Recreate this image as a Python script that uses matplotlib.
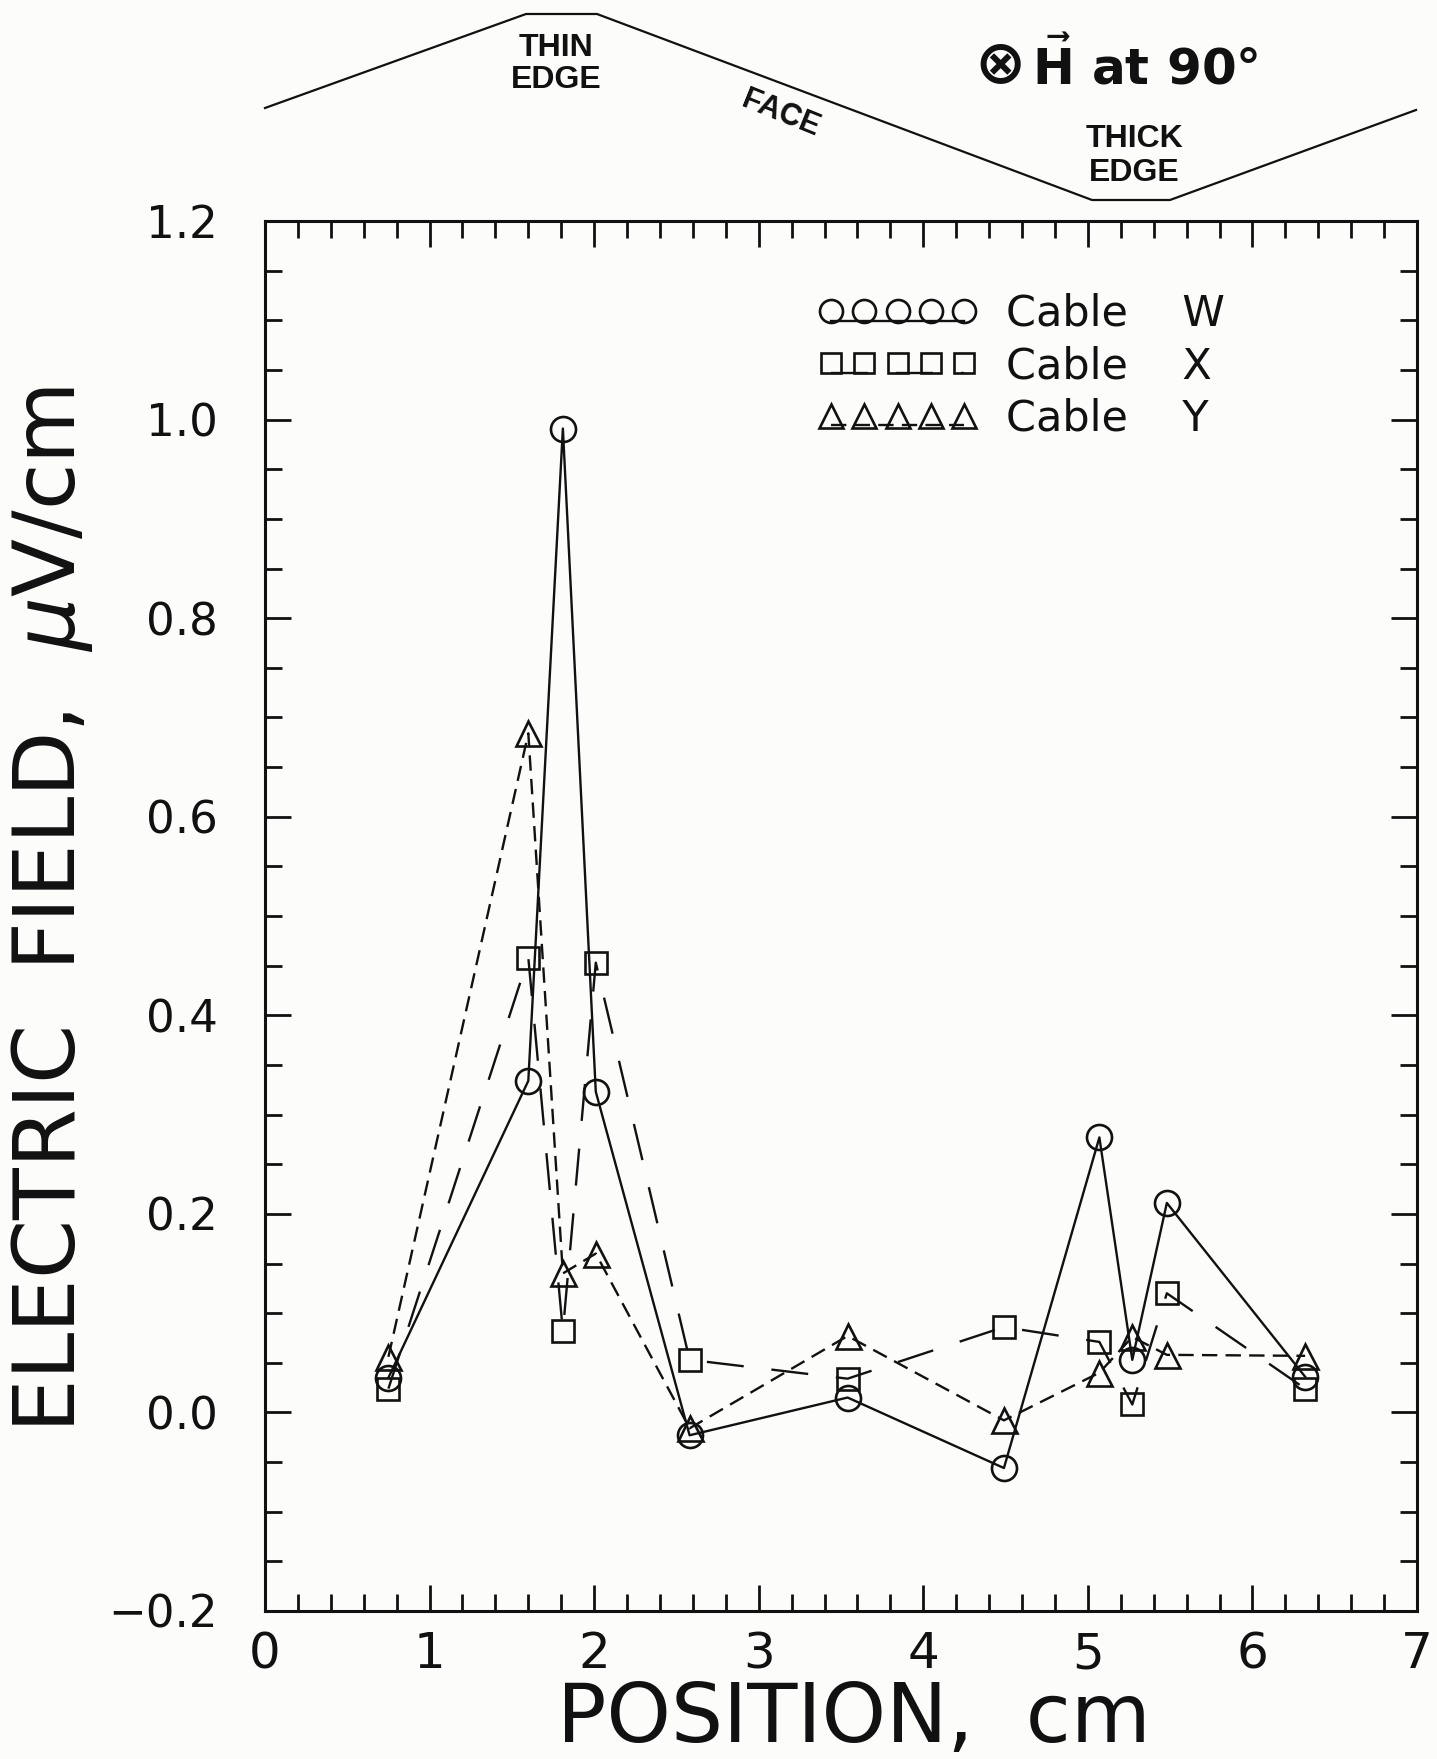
import matplotlib
matplotlib.use("Agg")
import matplotlib.pyplot as plt
import numpy as np
from matplotlib.ticker import MultipleLocator, FixedLocator, FixedFormatter
from matplotlib.legend_handler import HandlerLine2D
from matplotlib.lines import Line2D

# ---------------- data ----------------
position = [0.75, 1.60, 1.81, 2.01, 2.58, 3.54, 4.49, 5.07, 5.27, 5.48, 6.32]
cable_w = [0.035, 0.334, 0.991, 0.323, -0.023, 0.015, -0.056, 0.277, 0.053, 0.211, 0.036]
cable_x = [0.024, 0.458, 0.082, 0.453, 0.053, 0.034, 0.086, 0.071, 0.008, 0.120, 0.024]
cable_y = [0.056, 0.684, 0.140, 0.160, -0.016, 0.077, -0.008, 0.040, 0.076, 0.058, 0.057]

series_labels = ["Cable    W", "Cable    X", "Cable    Y"]
x_ticks = [0, 1, 2, 3, 4, 5, 6, 7]
x_tick_labels = ["0", "1", "2", "3", "4", "5", "6", "7"]
y_ticks = [-0.2, 0.0, 0.2, 0.4, 0.6, 0.8, 1.0, 1.2]
y_tick_labels = ["\u22120.2", "0.0", "0.2", "0.4", "0.6", "0.8", "1.0", "1.2"]

W, H = 1437, 1759
BG = "#fcfcfb"
INK = "#111111"

plt.rcParams["font.family"] = ["DejaVu Sans"]
plt.rcParams["mathtext.fontset"] = "dejavusans"
fig = plt.figure(figsize=(W / 100, H / 100), dpi=100, facecolor=BG)

L, R, T, B = 265, 1417, 221, 1611
ax = fig.add_axes([L / W, 1 - B / H, (R - L) / W, (B - T) / H])
ax.set_facecolor(BG)

lw = 1.7
ax.plot(position, cable_w, color=INK, lw=lw, ls="-", marker="o", ms=18,
        mfc="none", mec=INK, mew=1.9, label=series_labels[0])
ax.plot(position, cable_x, color=INK, lw=lw, dashes=(15.7, 11.8), marker="s", ms=15.5,
        mfc="none", mec=INK, mew=1.9, label=series_labels[1])
ax.plot(position, cable_y, color=INK, lw=lw, dashes=(6.5, 3.5), marker="^", ms=18,
        mfc="none", mec=INK, mew=1.9, label=series_labels[2])

ax.set_xlim(0, 7)
ax.set_ylim(-0.2, 1.2)
ax.xaxis.set_major_locator(FixedLocator(x_ticks))
ax.xaxis.set_major_formatter(FixedFormatter(x_tick_labels))
ax.xaxis.set_minor_locator(MultipleLocator(0.2))
ax.yaxis.set_major_locator(FixedLocator(y_ticks))
ax.yaxis.set_major_formatter(FixedFormatter(y_tick_labels))
ax.yaxis.set_minor_locator(MultipleLocator(0.05))

ax.tick_params(which="both", direction="in", top=True, right=True, color=INK, width=2.0)
ax.tick_params(which="major", length=19)
ax.tick_params(which="minor", length=12.5)
ax.tick_params(axis="y", which="major", labelsize=32.5, pad=34, labelcolor=INK)
ax.tick_params(axis="x", which="major", labelsize=36, pad=14, labelcolor=INK)
for s in ax.spines.values():
    s.set_linewidth(2.2)
    s.set_color(INK)

ax.set_ylabel("ELECTRIC  FIELD,  $\\mu$V/cm", fontsize=61, color=INK)
ax.yaxis.set_label_coords(-0.148, 0.505)
ax.set_xlabel("POSITION,  cm", fontsize=59, color=INK)
ax.xaxis.set_label_coords(0.511, -0.05)


class UnderlineHandler(HandlerLine2D):
    def __init__(self, offset, **kw):
        super().__init__(**kw)
        self.offset = offset

    def create_artists(self, legend, orig_handle, xdescent, ydescent, width,
                       height, fontsize, trans):
        arts = super().create_artists(legend, orig_handle, xdescent, ydescent,
                                      width, height, fontsize, trans)
        legline = arts[0]
        under = Line2D(legline.get_xdata(),
                       np.asarray(legline.get_ydata()) - self.offset)
        under.update_from(legline)
        under.set_marker("None")
        under.set_transform(trans)
        legline.set_linestyle("None")
        return [under, legline]


handles, labels = ax.get_legend_handles_labels()
leg = ax.legend(handles, labels, loc="upper left",
                bbox_to_anchor=(818 / W, 1 - 293 / H), bbox_transform=fig.transFigure,
                frameon=False, numpoints=5, handlelength=3.7, handletextpad=0.67,
                labelspacing=0.24, borderpad=0, borderaxespad=0, fontsize=31,
                markerscale=0.92,
                handler_map={h: UnderlineHandler(7.0) for h in handles})
for t in leg.get_texts():
    t.set_color(INK)

# ---------------- cross-section sketch above the plot ----------------
deco = fig.add_axes([0, 0, 1, 1])
deco.set_xlim(0, W)
deco.set_ylim(H, 0)
deco.axis("off")
deco.patch.set_alpha(0)
outline_x = [265, 526, 597, 1092, 1170, 1416]
outline_y = [108, 14, 14, 200, 200, 110]
deco.plot(outline_x, outline_y, color=INK, lw=1.6)

bold_family = ["Liberation Sans", "DejaVu Sans"]
deco.text(556, 64, "THIN\nEDGE", ha="center", va="center", fontsize=23,
          fontweight="bold", family=bold_family, linespacing=1.1, color=INK)
deco.text(1134, 156, "THICK\nEDGE", ha="center", va="center", fontsize=23,
          fontweight="bold", family=bold_family, linespacing=1.2, color=INK)
deco.text(781, 114, "FACE", ha="center", va="center", fontsize=22,
          fontweight="bold", family=bold_family, rotation=-22, color=INK)
deco.text(1026, 66, "\u2297", ha="right", va="center", fontsize=44,
          fontweight="bold", color=INK)
deco.text(1032, 66, "$\\mathbf{\\vec{H}}$ at 90\u00b0", ha="left", va="center",
          fontsize=36, fontweight="bold", color=INK)

fig.savefig("out.png", dpi=100, facecolor=BG)
